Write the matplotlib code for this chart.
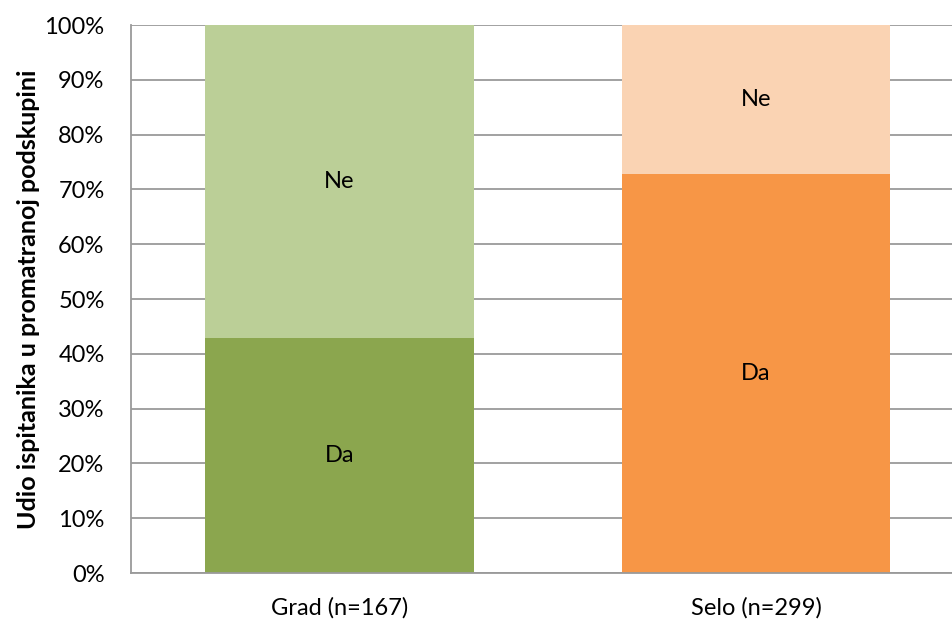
import matplotlib
matplotlib.use("Agg")
import matplotlib.pyplot as plt

categories = ["Grad (n=167)", "Selo (n=299)"]
da_values = [42.9, 72.8]
ne_values = [57.1, 27.2]
segment_labels = ["Da", "Ne"]
yticks = [0, 10, 20, 30, 40, 50, 60, 70, 80, 90, 100]
ytick_labels = [f"{v}%" for v in yticks]
ylabel = "Udio ispitanika u promatranoj podskupini"

da_colors = ["#8BA64E", "#F79646"]
ne_colors = ["#BBCF97", "#FAD3B3"]

plt.rcParams['font.family'] = ['Lato', 'DejaVu Sans']

fig = plt.figure(figsize=(9.53, 6.22), dpi=100)
ax = fig.add_axes([131/953, 1-573/622, (964.5-131)/953, (573-25)/622])

x = list(range(len(categories)))
width = 0.644
ax.bar(x, da_values, width=width, color=da_colors, zorder=2)
ax.bar(x, ne_values, width=width, bottom=da_values, color=ne_colors, zorder=2)

for i in x:
    ax.text(i, da_values[i]/2, segment_labels[0], ha='center', va='center', fontsize=17, color='black', zorder=3)
    ax.text(i, da_values[i] + ne_values[i]/2, segment_labels[1], ha='center', va='center', fontsize=17, color='black', zorder=3)

ax.set_xlim(-0.5, 1.5)
ax.set_ylim(0, 100)
ax.set_yticks(yticks)
ax.set_yticklabels(ytick_labels, fontsize=17)
ax.set_xticks(x)
ax.set_xticklabels(categories, fontsize=17)
ax.tick_params(axis='both', length=0)
ax.tick_params(axis='y', pad=19)
ax.tick_params(axis='x', pad=17)
ax.yaxis.grid(True, color='#9A9A9A', linewidth=1.3, zorder=0)
ax.set_axisbelow(True)
for s in ['top', 'right']:
    ax.spines[s].set_visible(False)
for s in ['left', 'bottom']:
    ax.spines[s].set_color('#9A9A9A')
    ax.spines[s].set_linewidth(1.3)

ax.set_ylabel(ylabel, fontsize=18, fontweight='bold', labelpad=3)

fig.savefig("out.png", dpi=100)
